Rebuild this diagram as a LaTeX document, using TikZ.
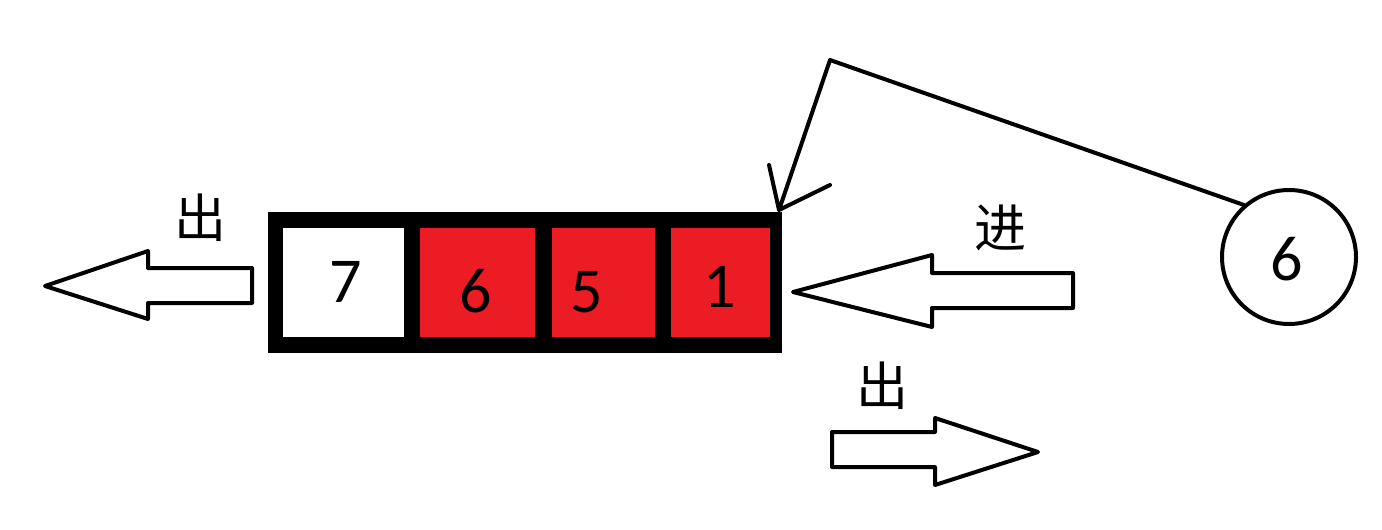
\documentclass[tikz,border=0pt]{standalone}
\usepackage{fontspec}
\setmainfont{Carlito}
\newfontfamily\cjk{Noto Sans CJK SC}
\definecolor{qred}{RGB}{236,28,36}
\begin{document}
\begin{tikzpicture}[x=1pt,y=-1pt,
  cell/.style={draw=none,inner sep=0pt,minimum height=109pt},
  digit/.style={inner sep=0pt,anchor=base,font=\fontsize{64}{64}\selectfont},
  hanzi/.style={inner sep=0pt,font=\cjk\fontsize{52}{52}\selectfont},
  blockarrow/.style={draw=black,line width=4pt,line join=round,fill=white},
  link/.style={draw=black,line width=4pt,line cap=round,line join=round}]
\useasboundingbox (0,0) rectangle (1382,530);
% queue box
\node[fill=black,inner sep=0pt,minimum width=514pt,minimum height=141pt,anchor=north west] (box) at (268,212) {};
\node[cell,fill=white,minimum width=121pt] (k1) at (343.5,282.5) {};
\node[cell,fill=qred,minimum width=115pt] (k2) at (477.5,282.5) {};
\node[cell,fill=qred,minimum width=103pt] (k3) at (603.5,282.5) {};
\node[cell,fill=qred,minimum width=99pt] (k4) at (720.5,282.5) {};
\node[digit] (t1) at (345.5,302) {7};
\node[digit] (t2) at (476,312) {6};
\node[digit] (t3) at (587,312) {5};
\node[digit] (t4) at (720,307) {1};
% circle
\node[draw=black,line width=4pt,circle,minimum size=134pt,inner sep=0pt] (c) at (1289,257) {};
\node[digit] (tc) at (1287,280) {6};
% block arrows
\draw[blockarrow] (45,286) -- (148,251) -- (148,268) -- (252,268) -- (252,303) -- (148,303) -- (148,319) -- cycle;
\draw[blockarrow] (793,292) -- (932,255) -- (932,273) -- (1073,273) -- (1073,308) -- (932,308) -- (932,327) -- cycle;
\draw[blockarrow] (1038,452) -- (935,418) -- (935,432) -- (832,432) -- (832,467) -- (935,467) -- (935,485) -- cycle;
% labels
\node[hanzi] (h1) at (200,218) {出};
\node[hanzi] (h2) at (1000,228) {进};
\node[hanzi] (h3) at (882,386) {出};
% connector from circle to box
\coordinate (apex) at (830,60);
\coordinate (tip) at (779,210);
\coordinate (barbA) at (769,165);
\coordinate (barbB) at (830,185);
\draw[link] (c.131) -- (apex) -- (tip) -- (barbA) (tip) -- (barbB);
\end{tikzpicture}
\end{document}
